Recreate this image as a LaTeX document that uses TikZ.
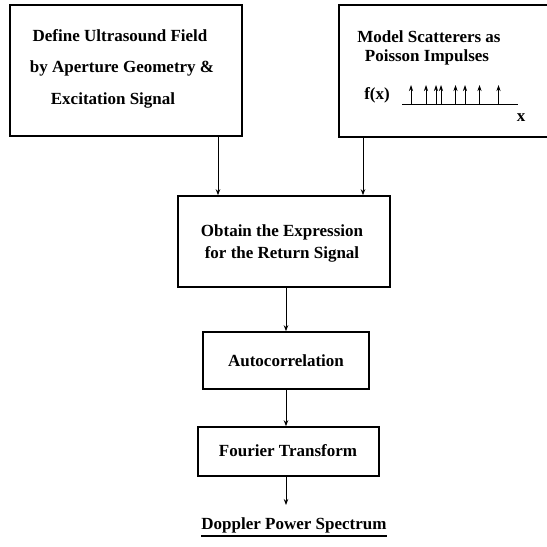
\documentclass[tikz,border=0pt]{standalone}
\usepackage{fontspec}
\setmainfont{Liberation Serif}
\usetikzlibrary{arrows.meta}
\begin{document}
\begin{tikzpicture}[x=1pt,y=-1pt,
  box/.style={draw,line width=1.6pt,inner sep=0pt},
  lbl/.style={inner sep=0pt,font=\bfseries\fontsize{17}{20}\selectfont},
  bl/.style={lbl,anchor=base},
  arr/.style={line width=0.9pt,-{Stealth[length=6pt,width=4.5pt]}},
  imp/.style={line width=0.7pt,-{Stealth[length=6pt,width=4pt]}}]
\useasboundingbox (0,0) rectangle (547,547);
\fill[white] (0,0) rectangle (547,547);
\begin{scope}
\clip (0,0) rectangle (547,547);
% boxes
\node[box,minimum width=232pt,minimum height=131pt] (b1) at (126,70.5) {};
\node[box,minimum width=262pt,minimum height=132pt] (b2) at (470,71) {};
\node[box,minimum width=212pt,minimum height=91pt] (b3) at (284,241.5) {};
\node[box,minimum width=166pt,minimum height=57pt] (b4) at (286,360.5) {};
\node[box,minimum width=181pt,minimum height=49pt] (b5) at (288.5,451.5) {};
% texts
\node[bl] (t1a) at (120,41) {Define Ultrasound Field};
\node[bl] (t1b) at (122,72) {by Aperture Geometry \&};
\node[bl] (t1c) at (113,104) {Excitation Signal};
\node[bl] (t2a) at (429,42) {Model Scatterers as};
\node[bl] (t2b) at (427,61) {Poisson Impulses};
\node[bl] (fx) at (377,99) {f(x)};
\node[bl] (xl) at (521,121) {x};
\node[bl] (t3a) at (282,236.5) {Obtain the Expression};
\node[bl] (t3b) at (282,258.5) {for the Return Signal};
\node[lbl] (t4) at (286,361) {Autocorrelation};
\node[lbl] (t5) at (288,451) {Fourier Transform};
\node[lbl] (dop) at (294,525) {Doppler Power Spectrum};
\draw[line width=1.3pt] ([yshift=-7pt]dop.base west) -- ([yshift=-7pt]dop.base east);
% impulses
\coordinate (ax0) at (402,104);
\coordinate (ax1) at (518,104);
\draw[line width=0.9pt] (ax0) -- (ax1);
\foreach \p in {411,426,436,441,455.5,465,479.5,498.5}{
  \draw[imp] (\p,104) -- (\p,85);
}
% connectors
\coordinate (c1) at (218,0);
\coordinate (c2) at (363,0);
\coordinate (c3) at (286,0);
\coordinate (out) at (286,505);
\draw[arr] (b1.south -| c1) -- (b3.north -| c1);
\draw[arr] (b2.south -| c2) -- (b3.north -| c2);
\draw[arr] (b3.south -| c3) -- (b4.north -| c3);
\draw[arr] (b4.south -| c3) -- (b5.north -| c3);
\draw[arr] (b5.south -| c3) -- (out);
\end{scope}
\end{tikzpicture}
\end{document}
